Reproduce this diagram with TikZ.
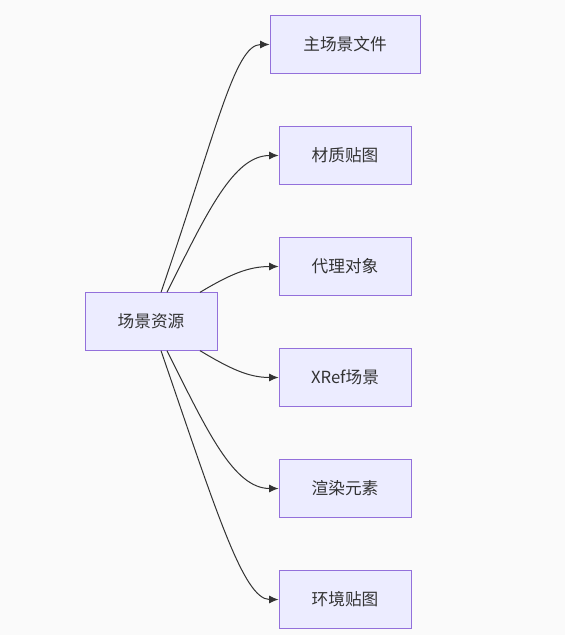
\documentclass[tikz,border=0pt]{standalone}
\usepackage{fontspec}
\newfontfamily\cjk{Noto Sans CJK SC}
\usetikzlibrary{arrows.meta}
\definecolor{boxfill}{HTML}{ECECFF}
\definecolor{boxline}{HTML}{9370DB}
\definecolor{edgeline}{HTML}{333333}
\definecolor{bgcol}{HTML}{FAFAFA}
\begin{document}
\begin{tikzpicture}[x=0.75pt,y=-0.75pt,font=\cjk\fontsize{12.5}{14}\selectfont,
  box/.style={draw=boxline,fill=boxfill,line width=0.75pt,minimum width=99pt,minimum height=43pt,inner sep=0pt,text=edgeline},
  edge/.style={draw=edgeline,line width=0.75pt,-{Latex[length=7pt,width=6pt]}}]
\def\SX{151}\def\TX{345}
% fondo
\fill[bgcol] (0,0) rectangle (565,635);
% nodos
\node[box] (res) at (\SX,321.5) {场景资源};
\node[box,minimum width=112.5pt] (main) at (\TX,44.5) {主场景文件};
\node[box] (mat) at (\TX,155.5) {材质贴图};
\node[box] (proxy) at (\TX,266.5) {代理对象};
\node[box] (xref) at (\TX,377.5) {XRef场景};
\node[box] (rend) at (\TX,488.5) {渲染元素};
\node[box] (env) at (\TX,599.5) {环境贴图};
% aristas
\draw[edge] ([xshift=7.5pt]res.north) .. controls +(55,-160) and +(-35,0) .. (main.west);
\draw[edge] ([xshift=12pt]res.north) .. controls +(40,-80) and +(-45,0) .. (mat.west);
\draw[edge] ([xshift=36.75pt]res.north) .. controls +(30,-18) and +(-30,0) .. (proxy.west);
\draw[edge] ([xshift=36.75pt]res.south) .. controls +(30,18) and +(-30,0) .. (xref.west);
\draw[edge] ([xshift=12pt]res.south) .. controls +(40,80) and +(-45,0) .. (rend.west);
\draw[edge] ([xshift=7.5pt]res.south) .. controls +(55,160) and +(-35,0) .. (env.west);
\end{tikzpicture}
\end{document}
